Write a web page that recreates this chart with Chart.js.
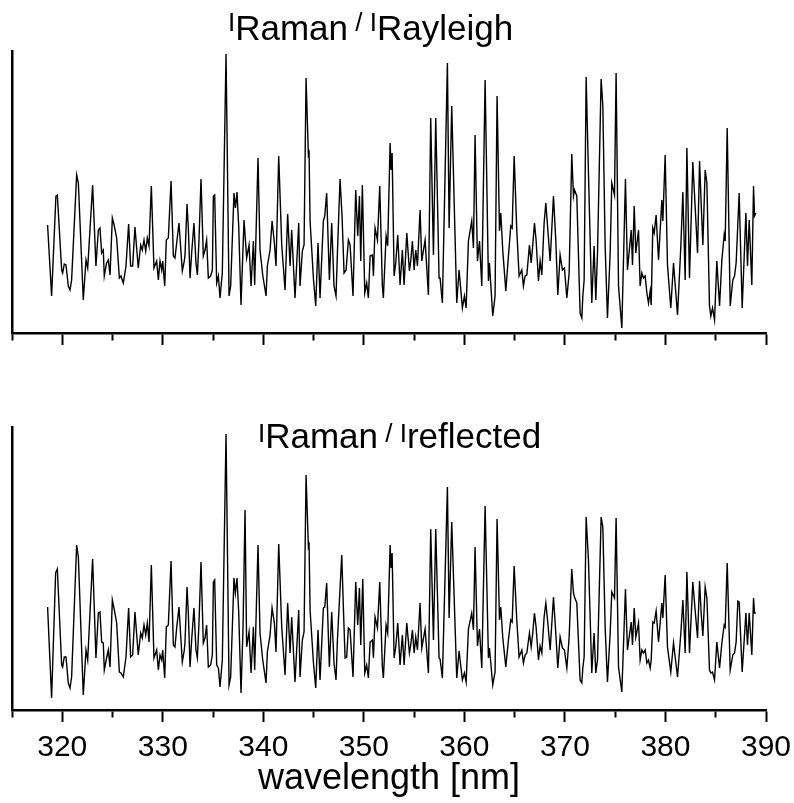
<!DOCTYPE html>
<html>
<head>
<meta charset="utf-8">
<script src="https://cdn.jsdelivr.net/npm/chart.js@4.4.1/dist/chart.umd.min.js"></script>
<style>
  body { margin: 0; background: #fff; }
  #wrap { position: relative; width: 794px; height: 803px; }
  canvas { position: absolute; left: 0; }
</style>
</head>
<body>
<div id="wrap">
  <canvas id="topChart" width="794" height="360" style="top:0"></canvas>
  <canvas id="bottomChart" width="794" height="443" style="top:360px"></canvas>
</div>
<script>
// Wavelength range and tick labels (nm)
const X_MIN = 315;
const X_MAX = 390;
const X_STEP = 5;
const X_LABELS = [320, 330, 340, 350, 360, 370, 380, 390];

// Top panel: I_Raman / I_Rayleigh (arbitrary units)
const topWavelength = [
    318.54, 318.94, 319.37, 319.51, 319.94, 320.04, 320.20, 320.37, 320.60, 320.77, 320.93, 321.43, 321.60, 322.09, 322.36, 322.53,
    323.02, 323.35, 323.59, 323.75, 323.92, 324.08, 324.18, 324.41, 324.58, 324.75, 324.98, 325.18, 325.41, 325.68, 325.84, 326.07,
    326.34, 326.60, 326.80, 327.00, 327.23, 327.56, 327.80, 327.96, 328.13, 328.30, 328.46, 328.63, 328.86, 329.12, 329.39, 329.56,
    329.72, 329.89, 329.99, 330.19, 330.35, 330.55, 330.82, 331.05, 331.21, 331.38, 331.61, 331.94, 332.14, 332.21, 332.41, 332.54,
    332.71, 332.87, 333.10, 333.30, 333.44, 333.60,
    333.80, 334.03, 334.20, 334.36, 334.53, 334.76, 334.93, 335.03, 335.16, 335.36, 335.53, 335.69, 335.92, 336.29, 336.59, 336.75,
    337.08, 337.22, 337.38, 337.55, 337.78, 338.08, 338.34, 338.58, 338.78, 339.01, 339.14, 339.47, 339.67, 339.94, 340.27, 340.40,
    340.67, 340.87, 341.10, 341.26, 341.53, 341.83, 342.16, 342.42, 342.66, 342.82, 343.15, 343.52, 343.65, 343.88, 344.05, 344.25,
    344.48, 344.55, 344.65, 344.98, 345.21, 345.44, 345.64, 345.97, 346.11, 346.30, 346.57, 346.80, 347.03, 347.23, 347.37, 347.63,
    347.83, 348.03, 348.23, 348.46, 348.63, 348.92, 349.19, 349.39, 349.56, 349.69, 349.85, 350.09, 350.28, 350.45, 350.62, 350.85,
    350.95, 351.11, 351.35, 351.58, 351.84, 351.94, 352.21, 352.37,
    352.61, 352.71, 352.81, 353.01, 353.17, 353.37, 353.60, 353.83, 354.00, 354.27, 354.53, 354.66, 354.83, 355.00, 355.16, 355.33,
    355.59, 355.76, 356.09, 356.42, 356.65, 356.92, 357.15, 357.48, 357.58, 357.81, 358.31, 358.48, 358.74, 359.24, 359.47, 359.80,
    360.00, 360.17, 360.40, 360.73, 360.90, 361.06, 361.30, 361.50, 361.73, 362.06, 362.39, 362.49, 362.82, 363.05, 363.25, 363.49,
    363.62, 363.82, 364.12, 364.38, 364.61, 364.75, 364.95, 365.21, 365.44, 365.71, 365.87, 366.04, 366.21, 366.47, 366.64, 366.80,
    366.97, 367.13, 367.37, 367.53, 367.70, 367.93, 368.10, 368.30, 368.53, 368.86, 369.09, 369.29, 369.52, 369.75, 369.95, 370.19,
    370.42, 370.68, 370.85, 370.95, 371.18, 371.51,
    371.68, 371.78, 371.91, 372.11, 372.34, 372.67, 372.90, 373.07, 373.24, 373.60, 373.77, 374.00, 374.23, 374.50, 374.66, 374.93,
    375.09, 375.33, 375.66, 376.02, 376.22, 376.59, 376.72, 376.89, 377.05, 377.32, 377.48, 377.65, 377.81, 377.98, 378.15, 378.31,
    378.48, 378.58, 378.74, 378.88, 379.07, 379.31, 379.64, 379.74, 379.97, 380.20, 380.53, 380.80, 381.20, 381.53, 381.73, 381.96,
    382.13, 382.39, 382.72, 382.95, 383.19, 383.39, 383.55, 383.72, 383.95, 384.12, 384.38, 384.51, 384.68, 384.88, 385.11, 385.38,
    385.61, 385.84, 385.94, 386.14, 386.44, 386.70, 386.87, 387.03, 387.33, 387.63, 388.00, 388.16, 388.33, 388.59, 388.76, 388.86,
    388.99
];
const topSignal = [
    108, 37, 137, 138, 63, 60, 69, 68, 47, 43, 53, 158, 150, 33, 73, 65,
    148, 67, 103, 105, 80, 83, 57, 70, 73, 58, 115, 107, 95, 55, 57, 50,
    67, 109, 67, 67, 106, 65, 88, 83, 93, 82, 95, 87, 147, 65, 72, 53,
    72, 63, 72, 47, 93, 95, 152, 77, 75, 90, 110, 62, 72, 78, 129, 105,
    55, 80, 110, 70, 58, 93,
    154, 77, 83, 93, 55, 57, 63, 137, 138, 50, 57, 35, 60, 279, 37, 47,
    140, 125, 141, 107, 28, 113, 75, 88, 47, 92, 48, 175, 83, 58, 37, 67,
    83, 112, 90, 67, 177, 88, 43, 119, 67, 103, 35, 110, 47, 82, 88, 255,
    178, 180, 112, 55, 27, 90, 35, 112, 117, 140, 53, 110, 47, 37, 80, 154,
    117, 60, 63, 93, 88, 37, 143, 97, 137, 72, 148, 40, 50, 35, 77, 78,
    57, 105, 93, 147, 47, 35, 97, 87,
    190, 163, 180, 57, 70, 98, 48, 83, 48, 100, 62, 72, 92, 63, 83, 67,
    123, 72, 93, 38, 215, 78, 215, 55, 55, 30, 270, 105, 227, 30, 63, 25,
    37, 25, 92, 112, 85, 198, 72, 92, 47, 253, 52, 70, 17, 37, 237, 102,
    120, 82, 42, 77, 107, 105, 177, 103, 57, 63, 47, 57, 58, 88, 70, 88,
    110, 93, 52, 72, 58, 110, 130, 103, 72, 137, 93, 38, 78, 63, 65, 35,
    60, 179, 137, 143, 137, 20,
    15, 37, 53, 256, 160, 30, 87, 33, 80, 254, 227, 87, 15, 80, 150, 138,
    260, 47, 5, 154, 63, 103, 68, 127, 80, 103, 47, 60, 55, 57, 40, 30,
    42, 28, 105, 100, 118, 73, 133, 112, 178, 68, 25, 70, 18, 87, 141, 53,
    185, 55, 171, 127, 80, 172, 130, 88, 163, 150, 27, 17, 25, 13, 72, 27,
    73, 98, 92, 205, 27, 53, 57, 70, 140, 25, 120, 67, 113, 48, 147, 117,
    120
];

// Bottom panel: I_Raman / I_reflected (arbitrary units)
const bottomWavelength = [
    318.54, 318.94, 319.34, 319.51, 319.94, 320.04, 320.20, 320.37, 320.60, 320.77, 320.93, 321.43, 321.60, 322.09, 322.36, 322.53,
    323.02, 323.35, 323.59, 323.75, 323.92, 324.08, 324.18, 324.41, 324.58, 324.75, 324.98, 325.18, 325.41, 325.68, 325.84, 326.07,
    326.34, 326.60, 326.80, 327.00, 327.23, 327.56, 327.80, 327.96, 328.13, 328.30, 328.46, 328.63, 328.86, 329.12, 329.39, 329.56,
    329.72, 329.89, 329.99, 330.19, 330.35, 330.55, 330.82, 331.05, 331.21, 331.38, 331.61, 331.94, 332.14, 332.21, 332.41, 332.54,
    332.71, 332.87, 333.10, 333.30, 333.44, 333.60,
    333.80, 334.03, 334.20, 334.36, 334.53, 334.76, 334.93, 335.03, 335.16, 335.36, 335.53, 335.69, 335.92, 336.29, 336.59, 336.75,
    337.08, 337.22, 337.38, 337.55, 337.78, 337.98, 338.18, 338.34, 338.58, 338.78, 339.01, 339.14, 339.47, 339.67, 339.94, 340.27,
    340.40, 340.67, 340.87, 341.10, 341.26, 341.53, 341.83, 342.16, 342.42, 342.66, 342.82, 343.15, 343.52, 343.65, 343.88, 344.05,
    344.25, 344.48, 344.55, 344.65, 344.98, 345.21, 345.44, 345.64, 345.97, 346.11, 346.30, 346.57, 346.80, 347.03, 347.23, 347.37,
    347.80, 347.96, 348.13, 348.29, 348.46, 348.63, 348.92, 349.19, 349.39, 349.56, 349.69, 349.89, 350.09, 350.28, 350.45, 350.62,
    350.85, 350.95, 351.11, 351.35, 351.58, 351.84, 351.94, 352.21, 352.37,
    352.61, 352.71, 352.81, 353.01, 353.17, 353.37, 353.60, 353.83, 354.00, 354.27, 354.53, 354.66, 354.83, 355.00, 355.16, 355.33,
    355.59, 355.76, 356.09, 356.42, 356.65, 356.92, 357.15, 357.48, 357.58, 357.81, 358.31, 358.48, 358.74, 359.24, 359.47, 359.80,
    360.00, 360.17, 360.40, 360.73, 360.90, 361.06, 361.30, 361.50, 361.73, 362.06, 362.39, 362.49, 362.82, 363.05, 363.25, 363.49,
    363.62, 363.82, 364.12, 364.38, 364.61, 364.75, 364.95, 365.21, 365.44, 365.71, 365.87, 366.04, 366.21, 366.47, 366.64, 366.80,
    366.97, 367.13, 367.37, 367.53, 367.70, 367.93, 368.10, 368.30, 368.53, 368.86, 369.09, 369.29, 369.52, 369.75, 369.95, 370.19,
    370.42, 370.68, 370.85, 370.95, 371.18, 371.51,
    371.68, 371.78, 371.91, 372.11, 372.34, 372.67, 372.90, 373.07, 373.24, 373.60, 373.77, 374.00, 374.23, 374.50, 374.66, 374.93,
    375.09, 375.33, 375.66, 376.02, 376.22, 376.59, 376.72, 376.89, 377.05, 377.32, 377.48, 377.65, 377.81, 377.98, 378.15, 378.31,
    378.48, 378.58, 378.74, 378.88, 379.07, 379.31, 379.64, 379.74, 379.97, 380.20, 380.53, 380.80, 381.20, 381.53, 381.73, 381.96,
    382.13, 382.39, 382.72, 382.95, 383.19, 383.39, 383.55, 383.72, 383.95, 384.12, 384.38, 384.51, 384.68, 384.88, 385.11, 385.38,
    385.61, 385.84, 385.94, 386.14, 386.44, 386.70, 386.87, 387.03, 387.20, 387.33, 387.63, 388.00, 388.16, 388.33, 388.59, 388.76,
    388.86, 388.99
];
const bottomSignal = [
    103, 12, 137, 141, 45, 43, 53, 53, 27, 22, 33, 165, 153, 15, 60, 50,
    151, 52, 97, 98, 68, 67, 40, 52, 60, 43, 110, 100, 87, 38, 37, 33,
    53, 102, 53, 55, 98, 55, 77, 72, 85, 75, 87, 68, 145, 52, 60, 40,
    55, 50, 60, 32, 83, 85, 149, 65, 63, 82, 103, 48, 60, 68, 123, 97,
    43, 70, 102, 60, 52, 87,
    148, 67, 72, 85, 43, 45, 55, 128, 130, 45, 42, 23, 50, 276, 25, 33,
    132, 117, 132, 98, 17, 82, 200, 63, 78, 37, 83, 40, 165, 77, 50, 27,
    58, 75, 102, 87, 58, 166, 83, 35, 107, 57, 93, 28, 100, 33, 70, 78,
    235, 163, 165, 100, 48, 22, 80, 30, 102, 103, 127, 43, 98, 47, 30, 70,
    155, 103, 52, 53, 82, 80, 33, 128, 85, 122, 65, 131, 37, 45, 32, 68,
    70, 52, 93, 82, 128, 43, 32, 85, 77,
    165, 142, 157, 52, 63, 87, 45, 75, 45, 87, 57, 65, 80, 57, 73, 60,
    107, 62, 81, 37, 181, 70, 181, 52, 51, 32, 223, 92, 188, 32, 59, 30,
    37, 28, 81, 97, 80, 163, 64, 81, 42, 204, 52, 62, 25, 38, 191, 90,
    103, 72, 43, 70, 90, 88, 144, 90, 53, 60, 47, 55, 57, 77, 63, 77,
    97, 83, 50, 64, 57, 93, 107, 87, 60, 113, 77, 42, 73, 62, 60, 42,
    73, 141, 117, 113, 107, 30,
    27, 42, 53, 193, 150, 37, 77, 37, 50, 193, 183, 83, 28, 77, 118, 112,
    192, 43, 18, 121, 60, 88, 65, 102, 73, 87, 50, 60, 57, 60, 47, 50,
    42, 50, 88, 87, 99, 68, 107, 92, 135, 63, 38, 67, 33, 77, 110, 57,
    138, 57, 128, 100, 72, 129, 97, 74, 123, 112, 40, 37, 38, 30, 68, 42,
    67, 85, 83, 147, 40, 55, 57, 68, 109, 108, 38, 97, 65, 97, 55, 112,
    97, 97
];

const TOP_Y_MAX = 282;
const BOTTOM_Y_MAX = 283;

const FONT = '"Liberation Sans", Arial, sans-serif';

function toPoints(xs, ys) {
    return xs.map((x, i) => ({ x: x, y: ys[i] }));
}

// Draws a title like "I_Raman / I_Rayleigh" where the "I" and "/" sit small and high
const panelTitle = {
    id: 'panelTitle',
    afterDraw(chart, args, opts) {
        const ctx = chart.ctx;
        const small = '26px ' + FONT;
        const large = '35px ' + FONT;
        const parts = [
            ['I', small, opts.smallBase],
            [opts.first, large, opts.largeBase],
            [' / ', small, opts.smallBase],
            ['I', small, opts.smallBase],
            [opts.second, large, opts.largeBase]
        ];
        ctx.save();
        ctx.fillStyle = '#000';
        ctx.textBaseline = 'alphabetic';
        ctx.textAlign = 'left';
        let x = opts.left;
        parts.forEach(p => {
            ctx.font = p[1];
            ctx.fillText(p[0], x, p[2]);
            x += ctx.measureText(p[0]).width;
        });
        ctx.restore();
    }
};

function xScale(showLabels) {
    return {
        type: 'linear',
        min: X_MIN,
        max: X_MAX,
        border: { display: true, color: '#000', width: 2.5 },
        grid: {
            drawOnChartArea: false,
            drawTicks: true,
            tickLength: 12,
            tickWidth: 2,
            tickColor: '#000',
            // short ticks every 5 nm, long ticks every 10 nm
            tickBorderDash: ctx => (ctx.tick && ctx.tick.value % 10 !== 0) ? [6, 40] : []
        },
        ticks: {
            display: showLabels,
            stepSize: X_STEP,
            autoSkip: false,
            maxRotation: 0,
            minRotation: 0,
            padding: 8,
            color: '#000',
            font: { family: FONT, size: 30 },
            callback: v => X_LABELS.includes(v) ? String(v) : ''
        },
        title: {
            display: showLabels,
            text: 'wavelength [nm]',
            color: '#000',
            font: { family: FONT, size: 36 },
            padding: { top: 0, bottom: 2 }
        },
        afterFit: s => {
            s.height = showLabels ? 93 : 13;
            s.paddingLeft = 0;
            s.paddingRight = 0;
        }
    };
}

function yScale(maxVal) {
    return {
        min: 0,
        max: maxVal,
        border: { display: true, color: '#000', width: 2.5 },
        grid: { display: false },
        ticks: { display: false },
        afterFit: s => { s.width = 0; }
    };
}

function makeChart(id, xs, ys, maxVal, showLabels, padding, titleOpts) {
    const ctx = document.getElementById(id).getContext('2d');
    return new Chart(ctx, {
        type: 'line',
        data: {
            datasets: [{
                data: toPoints(xs, ys),
                borderColor: '#000',
                borderWidth: 1.4,
                pointRadius: 0,
                tension: 0,
                fill: false
            }]
        },
        options: {
            responsive: false,
            animation: false,
            devicePixelRatio: 1,
            layout: { padding: padding },
            plugins: {
                legend: { display: false },
                tooltip: { enabled: false },
                panelTitle: titleOpts
            },
            scales: {
                x: xScale(showLabels),
                y: yScale(maxVal)
            }
        },
        plugins: [panelTitle]
    });
}

makeChart('topChart', topWavelength, topSignal, TOP_Y_MAX, false,
    { left: 12, right: 28, top: 51, bottom: 14 },
    { first: 'Raman', second: 'Rayleigh', left: 228, smallBase: 31, largeBase: 40 });

makeChart('bottomChart', bottomWavelength, bottomSignal, BOTTOM_Y_MAX, true,
    { left: 12, right: 28, top: 67, bottom: 0 },
    { first: 'Raman', second: 'reflected', left: 258, smallBase: 82, largeBase: 88 });
</script>
</body>
</html>
